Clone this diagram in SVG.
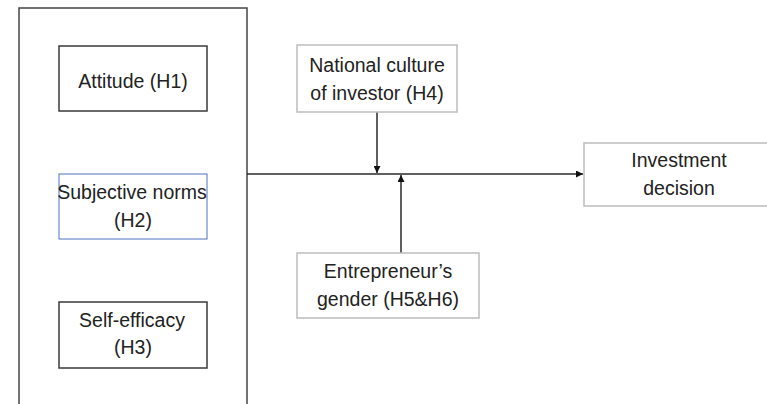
<svg xmlns="http://www.w3.org/2000/svg" width="767" height="404" viewBox="0 0 767 404">
<defs>
<style>
.t{font-family:"Liberation Sans",Arial,sans-serif;font-size:19.5px;fill:#222;text-anchor:middle}
.dark{fill:#fff;stroke:#3a3a3a;stroke-width:1.5}
.blue{fill:#fff;stroke:#4f72c0;stroke-width:1}
.light{fill:#fff;stroke:#bdbdbd;stroke-width:1.5}
.ln{stroke:#2a2a2a;stroke-width:1.5;fill:none}
</style>
<marker id="ah" viewBox="0 0 10 10" refX="10" refY="5" markerWidth="7" markerHeight="7" markerUnits="userSpaceOnUse" orient="auto">
<path d="M0,0 L10,5 L0,10 Z" fill="#111"/>
</marker>
</defs>
<rect width="767" height="404" fill="#fff"/>
<g id="group-box">
<rect x="19" y="8" width="228" height="420" fill="none" stroke="#444" stroke-width="1.5"/>
</g>
<g id="connectors">
<line class="ln" x1="247" y1="174" x2="583" y2="174" marker-end="url(#ah)"/>
<line class="ln" x1="377" y1="112" x2="377" y2="173" marker-end="url(#ah)"/>
<line class="ln" x1="401" y1="253" x2="401" y2="175" marker-end="url(#ah)"/>
</g>
<g id="attitude">
<rect class="dark" x="59" y="46" width="148" height="65"/>
<text class="t" x="133" y="88">Attitude (H1)</text>
</g>
<g id="subjective-norms">
<rect class="blue" x="59" y="174" width="148" height="65"/>
<text class="t" x="132" y="199">Subjective norms</text>
<text class="t" x="133" y="227">(H2)</text>
</g>
<g id="self-efficacy">
<rect class="dark" x="59" y="302" width="148" height="66"/>
<text class="t" x="132" y="327">Self-efficacy</text>
<text class="t" x="133" y="354">(H3)</text>
</g>
<g id="national-culture">
<rect class="light" x="297" y="45" width="160" height="67"/>
<text class="t" x="377" y="72">National culture</text>
<text class="t" x="377" y="100">of investor (H4)</text>
</g>
<g id="entrepreneur-gender">
<rect class="light" x="297" y="253" width="182" height="65"/>
<text class="t" x="388" y="278">Entrepreneur’s</text>
<text class="t" x="388" y="306">gender (H5&amp;H6)</text>
</g>
<g id="investment-decision">
<rect class="light" x="584" y="143" width="190" height="63"/>
<text class="t" x="679" y="167">Investment</text>
<text class="t" x="679" y="195">decision</text>
</g>
</svg>
